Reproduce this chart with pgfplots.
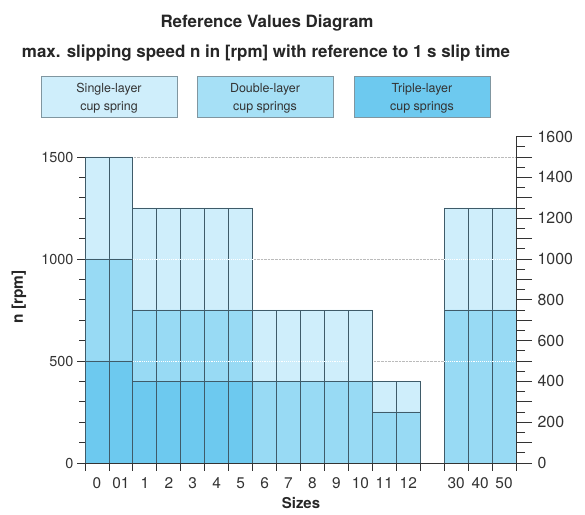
\documentclass[border=0pt]{standalone}
\usepackage{pgfplots}
\pgfplotsset{compat=1.18}
\usepackage{fontspec}
\setmainfont{TeX Gyre Heros}
\definecolor{cA}{HTML}{CFEEFB}
\definecolor{cB}{HTML}{98DAF4}
\definecolor{cC}{HTML}{6DC9EF}
\definecolor{edge}{HTML}{3F5B69}
\definecolor{txt}{HTML}{333333}
\definecolor{gridc}{HTML}{BBBBBB}
\definecolor{boxedge}{HTML}{8096A0}
\definecolor{lbA}{HTML}{CFEEFB}
\definecolor{lbB}{HTML}{A6E0F6}
\definecolor{lbC}{HTML}{6DC9EF}

\pgfplotstableread{
x single
0 1500
1 1500
2 1250
3 1250
4 1250
5 1250
6 1250
7 750
8 750
9 750
10 750
11 750
12 400
13 400
15 1250
16 1250
17 1250
}\singletab
\pgfplotstableread{
x double
0 1000
1 1000
2 750
3 750
4 750
5 750
6 750
7 400
8 400
9 400
10 400
11 400
12 250
13 250
15 750
16 750
17 750
}\doubletab
\pgfplotstableread{
x triple
0 500
1 500
2 400
3 400
4 400
5 400
6 400
}\tripletab

\begin{document}
\begin{tikzpicture}[x=1bp,y=1bp]
\path[use as bounding box] (0,0) rectangle (585,515);
% titles
\node[anchor=base, font=\fontsize{17}{20}\selectfont\bfseries, text=black!85, inner sep=0] at (267,487) {Reference Values Diagram};
\node[anchor=base, font=\fontsize{17}{20}\selectfont\bfseries, text=black!85, inner sep=0] at (266,457) {max. slipping speed n in [rpm] with reference to 1 s slip time};
% legend boxes
\foreach \xx/\cc/\la/\lb in {41/lbA/Single-layer/cup spring, 197/lbB/Double-layer/cup springs, 354/lbC/Triple-layer/cup springs}{
  \path[draw=boxedge, fill=\cc, line width=0.8pt] (\xx,439) rectangle ++(136,-41);
  \node[align=center, font=\fontsize{12.5}{18}\selectfont, text=txt] at (\xx+68,416.5) {\la\\\lb};
}
% axis labels
\node[rotate=90, font=\fontsize{15.5}{18}\selectfont\bfseries, text=black!85] at (19,218) {n [rpm]};
\node[font=\fontsize{15}{18}\selectfont\bfseries, text=black!85] at (301,12) {Sizes};

\begin{axis}[
  at={(85bp,52bp)}, anchor=south west, scale only axis,
  width=431bp, height=306bp,
  xmin=-0.5, xmax=17.5, ymin=0, ymax=1500,
  axis x line*=bottom, axis y line*=left,
  axis line style={txt, line width=0.8pt},
  tick align=outside, major tick length=8bp, minor tick length=6bp,
  every tick/.style={txt, line width=0.8pt},
  xtick={-0.5,0.5,...,17.5}, xticklabels={},
  extra x ticks={0,1,2,3,4,5,6,7,8,9,10,11,12,13,15,16,17},
  extra x tick labels={0,01,1,2,3,4,5,6,7,8,9,10,11,12,30,40,50},
  extra x tick style={major tick length=0pt, tick style={draw=none}},
  xticklabel style={font=\fontsize{15.5}{18}\selectfont, text=txt, yshift=-11bp},
  ytick={0,500,1000,1500}, minor ytick={100,200,...,1400},
  yticklabel style={font=\fontsize{14.5}{18}\selectfont, text=txt},
  /pgf/number format/assume math mode=true,
  /pgf/number format/1000 sep={},
  ymajorgrids, grid style={densely dotted, gridc, line width=0.8pt},
  ybar, bar width=1, bar shift=0pt,
]
\addplot[fill=cA, draw=edge, line width=0.8pt] table[x=x,y=single] {\singletab};
\addplot[fill=cB, draw=edge, line width=0.8pt] table[x=x,y=double] {\doubletab};
\addplot[fill=cC, draw=edge, line width=0.8pt] table[x=x,y=triple] {\tripletab};
% grid lines seen through the bars
\addplot[sharp plot, white, densely dotted, line width=0.9pt] coordinates {(1.5,500) (10.5,500)};
\addplot[sharp plot, white, densely dotted, line width=0.9pt] coordinates {(14.5,500) (17.5,500)};
\addplot[sharp plot, white, densely dotted, line width=0.9pt] coordinates {(1.5,1000) (6.5,1000)};
\addplot[sharp plot, white, densely dotted, line width=0.9pt] coordinates {(14.5,1000) (17.5,1000)};
\end{axis}

\begin{axis}[
  at={(85bp,52bp)}, anchor=south west, scale only axis,
  width=431bp, height=326.4bp,
  xmin=-0.5, xmax=17.5, ymin=0, ymax=1600,
  hide x axis, axis y line*=right,
  axis line style={txt, line width=0.8pt},
  tick align=outside, major tick length=16bp, minor tick length=9bp,
  every tick/.style={txt, line width=0.8pt},
  ytick={0,100,...,1600},
  yticklabels={0,,200,,400,,600,,800,,1000,,1200,,1400,,1600},
  minor ytick={50,150,...,1550},
  yticklabel style={font=\fontsize{16}{18}\selectfont, text=txt, xshift=2bp},
]
\addplot[draw=none] coordinates {(0,0)};
\end{axis}
\end{tikzpicture}
\end{document}
